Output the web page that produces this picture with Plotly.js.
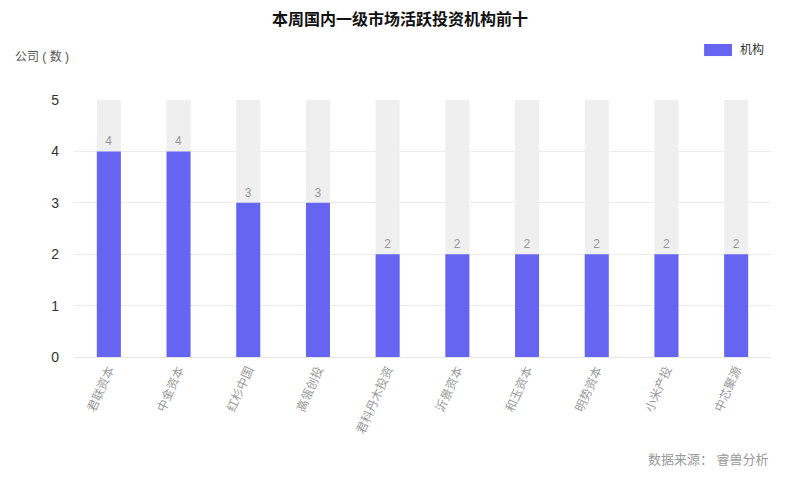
<!DOCTYPE html>
<html>
<head>
<meta charset="utf-8">
<script src="https://cdn.plot.ly/plotly-3.0.1.min.js"></script>
<style>
  html, body { margin: 0; padding: 0; background: white; }
  #chart { width: 800px; height: 480px; }
</style>
</head>
<body>
<div id="chart"></div>
<script>
// Top 10 active investors this week
const institutions = ['君联资本', '中金资本', '红杉中国', '高瓴创投', '君科丹木投资',
                      '沂景资本', '和玉资本', '明势资本', '小米产投', '中芯聚源'];
const counts = [4, 4, 3, 3, 2, 2, 2, 2, 2, 2];
const yMax = 5;
const yTicks = [0, 1, 2, 3, 4, 5];
const seriesName = '机构';

const FONT = { family: '"Liberation Sans", "Noto Sans CJK SC", sans-serif', color: '#333', size: 12 };
const BAR_COLOR = '#6565F1';

const traces = [
    {   // grey background columns
        type: 'bar', x: institutions, y: institutions.map(() => yMax),
        marker: { color: '#efefef' }, width: 0.345,
        hoverinfo: 'skip', showlegend: false,
    },
    {
        type: 'bar', name: seriesName, x: institutions, y: counts,
        marker: { color: BAR_COLOR }, width: 0.345,
        text: counts.map(String), textposition: 'outside', cliponaxis: false,
        textfont: { size: 12, color: '#999' },
        showlegend: false,
    },
];

const layout = {
    width: 800, height: 480,
    paper_bgcolor: 'white', plot_bgcolor: 'white',
    font: FONT,
    barmode: 'overlay',
    margin: { l: 74, r: 29, t: 100, b: 123 },
    title: {
        text: '<b>本周国内一级市场活跃投资机构前十</b>',
        x: 0.5, xanchor: 'center', y: 0.96, yanchor: 'middle',
        font: { size: 16, color: '#111' },
    },
    xaxis: {
        type: 'category', tickangle: -66, showgrid: false, zeroline: false,
        showline: true, linecolor: '#e5e5e5', ticks: '',
        tickfont: { size: 12, color: '#999' },
    },
    yaxis: {
        range: [0, yMax], tickvals: yTicks, showgrid: true, gridcolor: '#ececec',
        zeroline: false, ticks: '', ticklabelstandoff: 14,
        tickfont: { size: 14, color: '#333' },
    },
    // legend drawn by hand so the swatch is a wide rectangle
    shapes: [
        { type: 'rect', xref: 'paper', yref: 'paper', x0: 0.904, x1: 0.944, y0: 1.171, y1: 1.218,
          fillcolor: BAR_COLOR, line: { width: 0 } },
    ],
    annotations: [
        { text: seriesName, xref: 'paper', yref: 'paper', x: 0.953, y: 1.195,
          xanchor: 'left', yanchor: 'middle', showarrow: false,
          font: { size: 12, color: '#333' } },
        { text: '公司 ( 数 )', xref: 'paper', yref: 'paper', x: -0.087, y: 1.17,
          xanchor: 'left', yanchor: 'middle', showarrow: false,
          font: { size: 12, color: '#555' } },
        { text: '数据来源： 睿兽分析', xref: 'paper', yref: 'paper', x: 1, y: -0.4,
          xanchor: 'right', yanchor: 'middle', showarrow: false,
          font: { size: 13, color: '#999' } },
    ],
};

Plotly.newPlot('chart', traces, layout, { displayModeBar: false });
</script>
</body>
</html>
